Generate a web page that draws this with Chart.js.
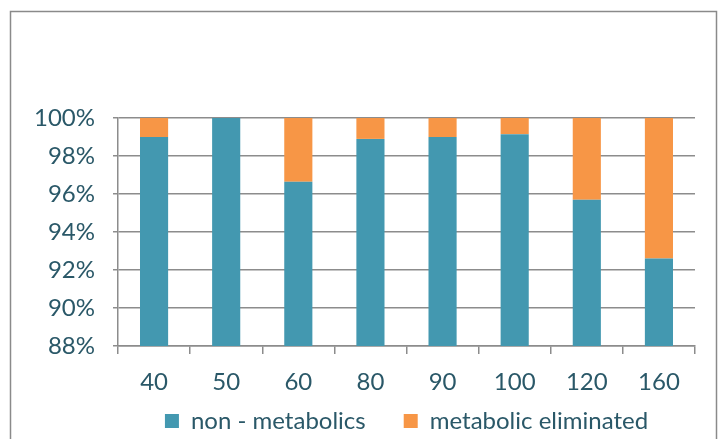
<!DOCTYPE html>
<html>
<head>
<meta charset="utf-8">
<script src="https://cdn.jsdelivr.net/npm/chart.js@4/dist/chart.umd.min.js"></script>
<style>
  html, body { margin: 0; padding: 0; background: #ffffff; }
  #wrap { position: relative; width: 720px; height: 439px; }
</style>
</head>
<body>
<div id="wrap"><canvas id="chart" width="720" height="439"></canvas></div>
<script>
// Temperature groups on the x axis
const categories = ['40', '50', '60', '80', '90', '100', '120', '160'];
// Share of each group (percent)
const nonMetabolics = [99.0, 100.0, 96.65, 98.9, 99.0, 99.15, 95.7, 92.6];
const metabolicEliminated = [1.0, 0.0, 3.35, 1.1, 1.0, 0.85, 4.3, 7.4];
// Value axis range and step (percent)
const yMin = 88, yMax = 100, yStep = 2;

const textColor = '#2a5868';
const lineColor = '#8c8c8c';
const fontFamily = 'Lato, "Open Sans", sans-serif';
const legendPadding = 38;

// Outer frame around the whole chart
const framePlugin = {
  id: 'frame',
  beforeDraw(chart) {
    const ctx = chart.ctx;
    ctx.save();
    ctx.strokeStyle = '#8a8a8a';
    ctx.lineWidth = 1.5;
    ctx.strokeRect(10.5, 11.5, 706, 460);
    ctx.restore();
  }
};

// Center the legend row under the plot area, with wide gaps between entries
// but only a short strip of reserved height below the axis labels
const legendUnderPlot = {
  id: 'legendUnderPlot',
  afterLayout(chart) {
    const lg = chart.legend;
    if (lg) {
      lg.left = chart.chartArea.left;
      lg.right = chart.chartArea.right;
      lg.top = lg.top - legendPadding + 13;
    }
  }
};

new Chart(document.getElementById('chart'), {
  type: 'bar',
  data: {
    labels: categories,
    datasets: [
      {
        label: 'non - metabolics',
        data: nonMetabolics,
        backgroundColor: '#4398b0',
        borderWidth: 0,
        categoryPercentage: 1.0,
        barPercentage: 0.39
      },
      {
        label: 'metabolic eliminated',
        data: metabolicEliminated,
        backgroundColor: '#f79646',
        borderWidth: 0,
        categoryPercentage: 1.0,
        barPercentage: 0.39
      }
    ]
  },
  options: {
    responsive: false,
    animation: false,
    layout: { padding: { top: 118, right: 25, left: 0, bottom: 0 } },
    plugins: {
      legend: {
        position: 'bottom',
        maxHeight: 43,
        labels: {
          color: textColor,
          font: { family: fontFamily, size: 24 },
          boxWidth: 14,
          boxHeight: 14,
          padding: legendPadding,
          useBorderRadius: false
        }
      },
      tooltip: { enabled: false }
    },
    scales: {
      x: {
        stacked: true,
        offset: true,
        afterFit(scale) { scale.height = 50; },
        grid: {
          display: true,
          offset: true,
          drawOnChartArea: false,
          drawTicks: true,
          tickLength: 8,
          color: lineColor,
          lineWidth: 1.5
        },
        border: { display: true, color: lineColor, width: 1.5 },
        ticks: {
          color: textColor,
          font: { family: fontFamily, size: 24 },
          padding: 14,
          maxRotation: 0
        }
      },
      y: {
        stacked: true,
        min: yMin,
        max: yMax,
        afterFit(scale) { scale.width = 118; },
        grid: {
          color: lineColor,
          lineWidth: 1.5,
          drawTicks: true,
          tickLength: 5
        },
        border: { display: true, color: lineColor, width: 1.5 },
        ticks: {
          stepSize: yStep,
          color: textColor,
          font: { family: fontFamily, size: 24 },
          padding: 18,
          callback: v => v + '%'
        }
      }
    }
  },
  plugins: [framePlugin, legendUnderPlot]
});
</script>
</body>
</html>
